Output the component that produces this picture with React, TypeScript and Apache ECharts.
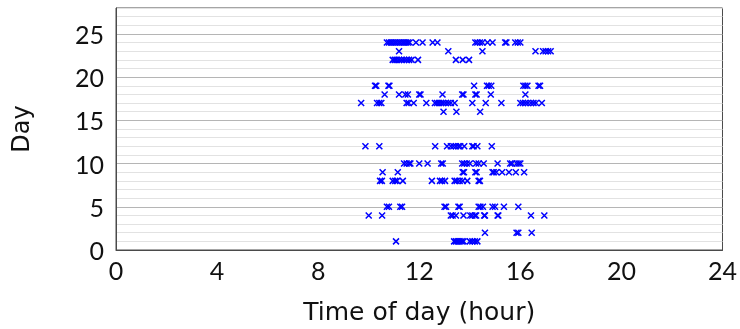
import React, { useEffect, useRef } from "react";
import * as echarts from "echarts";

const xTicks = [0, 4, 8, 12, 16, 20, 24];
const yTicks = [0, 5, 10, 15, 20, 25];

const day24 = [10.72, 10.8, 10.88, 10.95, 11.03, 11.1, 11.18, 11.25, 11.33, 11.4, 11.48, 11.55, 11.62, 11.87, 12.13, 12.53, 12.72, 14.22, 14.3, 14.4, 14.5, 14.7, 14.9, 15.4, 15.45, 15.8, 15.9, 16.0];
const day23 = [11.2, 13.15, 14.5, 16.6, 16.9, 17.0, 17.1, 17.2];
const day22 = [10.95, 11.03, 11.1, 11.2, 11.3, 11.4, 11.5, 11.6, 11.7, 11.95, 13.45, 13.72, 13.97];
const day19 = [10.25, 10.3, 10.78, 10.82, 14.17, 14.68, 14.75, 14.85, 16.12, 16.2, 16.28, 16.72, 16.78];
const day18 = [10.63, 11.2, 11.45, 11.55, 12.0, 12.05, 12.92, 13.7, 13.75, 14.22, 14.27, 14.83, 16.2];
const day17 = [9.7, 10.33, 10.42, 10.5, 11.5, 11.58, 11.78, 12.28, 12.62, 12.7, 12.78, 12.87, 12.95, 13.05, 13.15, 13.25, 13.4, 14.1, 14.63, 15.25, 16.0, 16.1, 16.2, 16.3, 16.42, 16.52, 16.62, 16.85];
const day16 = [12.96, 13.47, 14.41];
const day12 = [9.87, 10.42, 12.63, 13.1, 13.25, 13.35, 13.45, 13.55, 13.62, 13.78, 14.1, 14.15, 14.3, 14.87];
const day10 = [11.4, 11.5, 11.6, 11.65, 12.0, 12.33, 12.87, 12.93, 13.7, 13.78, 13.88, 14.0, 14.25, 14.35, 14.55, 15.1, 15.6, 15.67, 15.85, 15.93, 16.0];
const day9 = [10.55, 11.15, 13.72, 13.77, 14.22, 14.27, 14.9, 14.95, 15.05, 15.28, 15.55, 15.82, 16.15];
const day8 = [10.45, 10.52, 10.95, 11.05, 11.12, 11.35, 12.5, 12.82, 12.9, 13.02, 13.4, 13.48, 13.6, 13.72, 13.9, 14.35, 14.4];
const day5 = [10.72, 10.8, 11.25, 11.32, 13.0, 13.06, 13.55, 13.6, 14.35, 14.42, 14.52, 14.9, 15.0, 15.35, 15.92];
const day4 = [10.0, 10.53, 13.25, 13.32, 13.45, 13.75, 14.02, 14.1, 14.2, 14.25, 14.57, 14.6, 15.1, 15.13, 16.42, 16.95];
const day2 = [14.6, 15.85, 15.92, 16.45];
const day1 = [11.08, 13.38, 13.45, 13.52, 13.6, 13.68, 13.75, 14.0, 14.1, 14.2, 14.3];

const days: [number, number[]][] = [
  [24, day24], [23, day23], [22, day22], [19, day19], [18, day18], [17, day17], [16, day16],
  [12, day12], [10, day10], [9, day9], [8, day8], [5, day5], [4, day4], [2, day2], [1, day1],
];

const TICK_FONT = "Lato, 'DejaVu Sans', sans-serif";
const TITLE_FONT = "'DejaVu Sans', sans-serif";

export default function App() {
  const ref = useRef<HTMLDivElement>(null);
  useEffect(() => {
    if (!ref.current) return;
    const chart = echarts.init(ref.current, undefined, { renderer: "svg" });
    const data: number[][] = [];
    days.forEach(([d, hs]) => hs.forEach((h) => data.push([h, d])));
    chart.setOption({
      animation: false,
      grid: { left: 116, right: 16, top: 8, bottom: 77, show: true, borderColor: "#4a4a4a", borderWidth: 1, backgroundColor: "transparent" },
      xAxis: {
        type: "value", min: 0, max: 24, interval: 4,
        name: "Time of day (hour)", nameLocation: "middle", nameGap: 49,
        nameTextStyle: { fontFamily: TITLE_FONT, fontSize: 25, color: "#111" },
        axisLine: { show: true, lineStyle: { color: "#4a4a4a" } },
        axisTick: { show: false },
        splitLine: { show: false },
        axisLabel: { fontFamily: TICK_FONT, fontSize: 25, color: "#111", margin: 7,
          formatter: (v: number) => (xTicks.includes(v) ? String(v) : "") },
      },
      yAxis: {
        type: "value", min: 0, max: 28, interval: 1,
        name: "Day", nameLocation: "middle", nameGap: 83, nameRotate: 90,
        nameTextStyle: { fontFamily: TITLE_FONT, fontSize: 24, color: "#111" },
        axisLine: { show: true, lineStyle: { color: "#4a4a4a" } },
        axisTick: { show: false },
        splitLine: { show: true, lineStyle: { color: ["#b5b5b5", "#e2e2e2", "#e2e2e2", "#e2e2e2", "#e2e2e2"], width: 1 } },
        axisLabel: { fontFamily: TICK_FONT, fontSize: 25, color: "#111", margin: 12, showMaxLabel: false,
          formatter: (v: number) => (yTicks.includes(v) ? String(v) : "") },
      },
      series: [{
        type: "scatter",
        data,
        symbol: "path://M0,0L10,10M10,0L0,10",
        symbolSize: 6,
        itemStyle: { color: "none", borderColor: "#0000ff", borderWidth: 1.5, opacity: 1 },
      }],
    });
    return () => chart.dispose();
  }, []);
  return <div ref={ref} style={{ position: "fixed", left: 0, top: 0, width: 740, height: 329 }} />;
}
